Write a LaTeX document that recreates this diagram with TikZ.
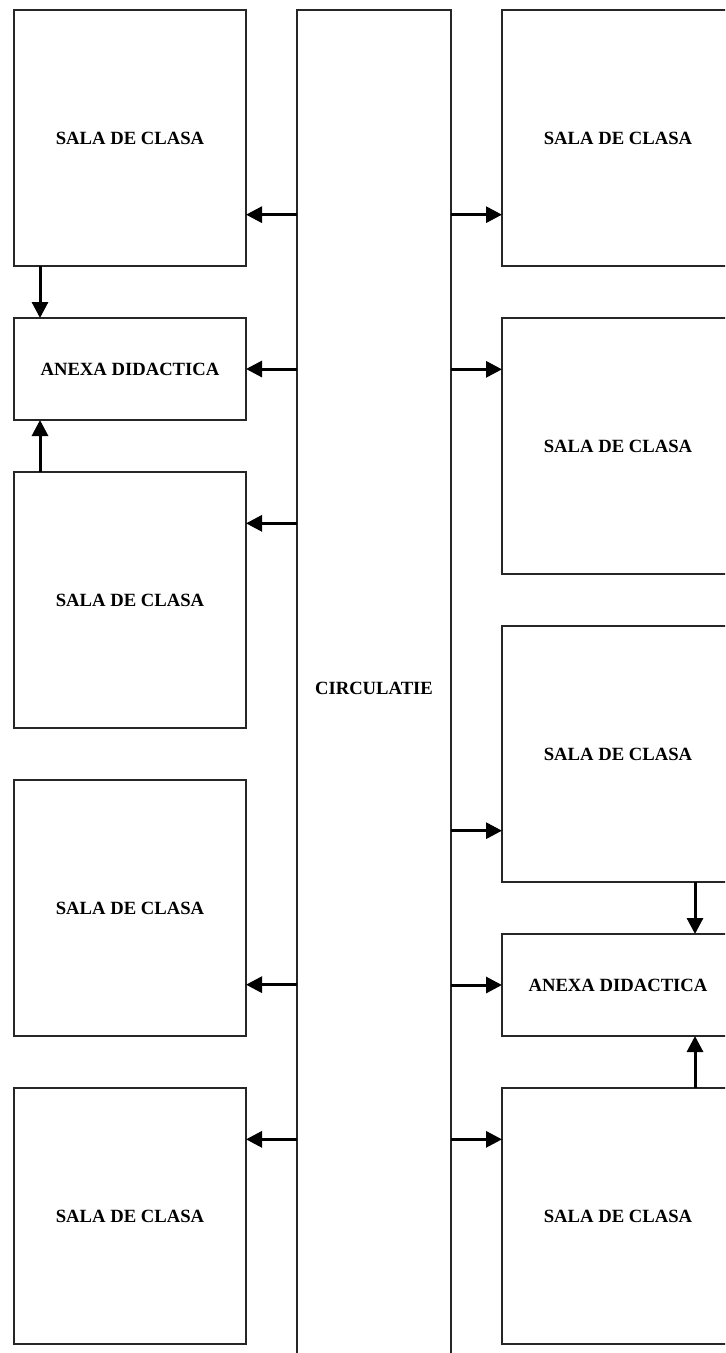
\documentclass[tikz,border=0pt]{standalone}
\usepackage{fontspec}
\setmainfont{Liberation Serif}
\usetikzlibrary{positioning,arrows.meta}

\begin{document}
\begin{tikzpicture}[x=0.75pt,y=-0.75pt,
room/.style={draw=black!85,
  line width=1pt,outer sep=0pt,
  minimum width=174pt,
  minimum height=192pt,
  node font=\bfseries\fontsize{14}{16}\selectfont
},
annex/.style={room,minimum height=76.5pt},
hall/.style={room,minimum width=115.5pt,minimum height=1017pt},
link/.style={line width=2.25pt,-{Triangle[length=12pt,width=12pt]}},
node distance=39pt and 38.25pt]
\useasboundingbox (0,0) rectangle (725,1353);
\clip (0,0) rectangle (725,1353);

\node (l1) [room, anchor=north west] at (14,10) {SALA DE CLASA};

\node (l2) [annex, below=of l1] {ANEXA DIDACTICA};

\node (l3) [room, below=of l2] {SALA DE CLASA};

\node (l4) [room, below=of l3] {SALA DE CLASA};

\node (l5) [room, below=of l4] {SALA DE CLASA};

\node (circ) [hall, right=of l1.north east, anchor=north west] {CIRCULATIE};

\node (r1) [room, right=of circ.north east, anchor=north west] {SALA DE CLASA};

\node (r2) [room, below=of r1] {SALA DE CLASA};

\node (r3) [room, below=of r2] {SALA DE CLASA};

\node (r4) [annex, below=of r3] {ANEXA DIDACTICA};

\node (r5) [room, below=of r4] {SALA DE CLASA};

\coordinate (a1) at ([yshift=-57.5pt]l1.east);
\coordinate (a2) at (l2.east);
\coordinate (a3) at ([yshift=57.5pt]l3.east);
\coordinate (a4) at ([yshift=-57.5pt]l4.east);
\coordinate (a5) at ([yshift=57.5pt]l5.east);
\coordinate (b1) at ([yshift=-57.5pt]r1.west);
\coordinate (b2) at ([yshift=57.5pt]r2.west);
\coordinate (b3) at ([yshift=-57.5pt]r3.west);
\coordinate (b4) at (r4.west);
\coordinate (b5) at ([yshift=57.5pt]r5.west);

\foreach \p in {a1,a2,a3,a4,a5}
  \draw [link] (\p -| circ.west) -- (\p);
\foreach \p in {b1,b2,b3,b4,b5}
  \draw [link] (\p -| circ.east) -- (\p);

\draw [link] ([xshift=19.5pt]l1.south west) -- ([xshift=19.5pt]l2.north west);
\draw [link] ([xshift=19.5pt]l3.north west) -- ([xshift=19.5pt]l2.south west);
\draw [link] ([xshift=144.75pt]r3.south west) -- ([xshift=144.75pt]r4.north west);
\draw [link] ([xshift=144.75pt]r5.north west) -- ([xshift=144.75pt]r4.south west);
\end{tikzpicture}
\end{document}
